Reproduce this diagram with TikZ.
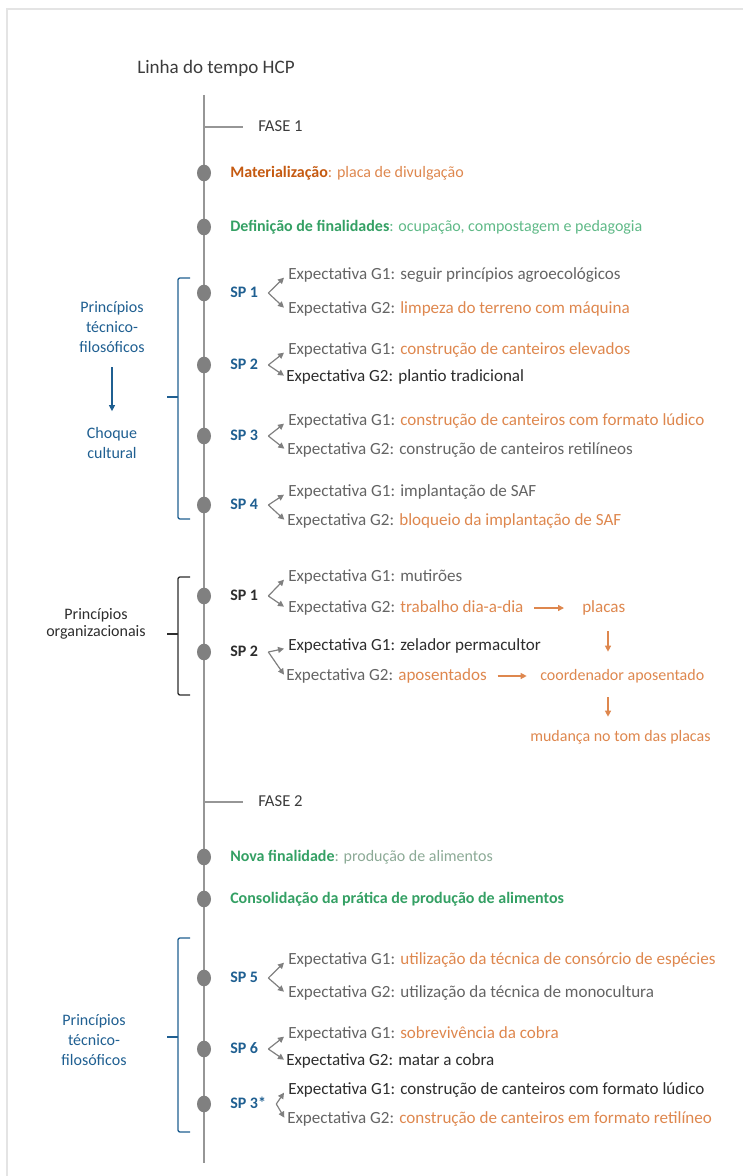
\documentclass[tikz,border=0pt]{standalone}
\usepackage{fontspec}
\setmainfont{Carlito}
\usetikzlibrary{arrows.meta,shapes.geometric}
\definecolor{frameg}{RGB}{228,228,228}
\definecolor{lineg}{RGB}{150,150,150}
\definecolor{dotg}{RGB}{128,128,128}
\definecolor{txtg}{RGB}{100,100,100}
\definecolor{txtd}{RGB}{45,45,45}
\definecolor{titleg}{RGB}{60,60,60}
\definecolor{orB}{RGB}{197,90,17}
\definecolor{orL}{RGB}{222,135,78}
\definecolor{grB}{RGB}{52,160,100}
\definecolor{grL}{RGB}{95,185,135}
\definecolor{grG}{RGB}{140,170,150}
\definecolor{bl}{RGB}{31,95,145}
\begin{document}
\begin{tikzpicture}[x=0.75pt,y=-0.75pt,
  txt/.style={anchor=west,inner sep=0pt,font=\fontsize{12}{14}\selectfont,text=txtg,text height=8.6pt,text depth=2.5pt},
  exp/.style={txt,font=\fontsize{12.8}{15}\selectfont,text height=9.1pt,text depth=2.7pt},
  fase/.style={txt,text=titleg,font=\fontsize{12.5}{14}\selectfont},
  titlestyle/.style={anchor=west,inner sep=0pt,font=\fontsize{14.3}{16}\selectfont,text=titleg},
  dot/.style={ellipse,fill=dotg,minimum width=10.5pt,minimum height=12.5pt,inner sep=0pt},
  splab/.style={txt,font=\fontsize{12}{14}\selectfont\bfseries,text=bl},
  splabk/.style={txt,font=\fontsize{12}{14}\selectfont\bfseries,text=txtd},
  sidelab/.style={align=center,inner sep=0pt,font=\fontsize{12}{15}\selectfont,text=bl},
  tline/.style={draw=lineg,line width=1pt},
  exparr/.style={draw=dotg,line width=0.9pt,-{Triangle[length=4.5pt,width=4.5pt]}},
  orarr/.style={draw=orL,line width=1pt,-{Triangle[length=4.5pt,width=4.5pt]}},
  blarr/.style={draw=bl,line width=1pt,-{Triangle[length=4.5pt,width=4.5pt]}},
  brk/.style={draw=bl,line width=1pt,rounded corners=1.5pt},
  brkk/.style={draw=txtd,line width=1pt,rounded corners=1.5pt}
]
\useasboundingbox (0,0) rectangle (743,1176);
\draw[frameg,line width=1.5pt] (7,1176) -- (7,9) -- (743,9);

\node[titlestyle] (title) at (137,68) {Linha do tempo HCP};

% timeline
\coordinate (ttop) at (204,95);
\coordinate (tbot) at (204,1163);
\draw[tline] (ttop) -- (tbot);

% FASE 1
\coordinate (f1) at (204,127);
\node[fase] (fase1) at (258,127) {FASE 1};
\draw[tline] (f1) -- ([xshift=-11pt]fase1.west);

\node[dot] (d1) at (204,173) {};
\node[txt] (t1) at (230,173) {\textcolor{orB}{\bfseries Materialização}\textcolor{orL}{: placa de divulgação}};
\node[dot] (d2) at (204,227) {};
\node[txt] (t2) at (230,227) {\textcolor{grB}{\bfseries Definição de finalidades}\textcolor{grL}{: ocupação, compostagem e pedagogia}};

% bracket 1
\draw[brk] (190,278) -- (178,278) -- (178,519) -- (190,519);
\draw[brk] (178,397) -- (167,397);
\node[sidelab] (ptf1) at (112,327) {Princípios\\técnico-\\filosóficos};
\node[sidelab] (cc1) at (112,443) {Choque\\cultural};
\draw[blarr,shorten <=11pt,shorten >=12pt] (ptf1.south) -- (cc1.north);

% SP1
\node[dot] (s1) at (204,293) {};
\node[splab] (sp1) at (230,293) {SP 1};
\node[exp] (g11) at (288,275) {Expectativa G1: seguir princípios agroecológicos};
\node[exp] (g12) at (288,309) {Expectativa G2: \textcolor{orL}{limpeza do terreno com máquina}};
\draw[exparr] ([xshift=7.5pt]sp1.east) -- ([xshift=-3pt,yshift=-2pt]g11.west);
\draw[exparr] ([xshift=7.5pt]sp1.east) -- ([xshift=-3pt,yshift=1pt]g12.west);

% SP2
\node[dot] (s2) at (204,365) {};
\node[splab] (sp2) at (230,365) {SP 2};
\node[exp] (g21) at (288,350) {Expectativa G1: \textcolor{orL}{construção de canteiros elevados}};
\node[exp,text=txtd] (g22) at (286,377) {Expectativa G2: plantio tradicional};
\draw[exparr] ([xshift=7.5pt]sp2.east) -- ([xshift=-3pt,yshift=-2pt]g21.west);
\draw[exparr] ([xshift=7.5pt]sp2.east) -- ([xshift=-1.5pt,yshift=1pt]g22.west);

% SP3
\node[dot] (s3) at (204,436) {};
\node[splab] (sp3) at (230,436) {SP 3};
\node[exp] (g31) at (288,421) {Expectativa G1: \textcolor{orL}{construção de canteiros com formato lúdico}};
\node[exp] (g32) at (287,450) {Expectativa G2: construção de canteiros retilíneos};
\draw[exparr] ([xshift=7.5pt]sp3.east) -- ([xshift=-3pt,yshift=-2pt]g31.west);
\draw[exparr] ([xshift=7.5pt]sp3.east) -- ([xshift=-2pt,yshift=1pt]g32.west);

% SP4
\node[dot] (s4) at (204,505) {};
\node[splab] (sp4) at (230,505) {SP 4};
\node[exp] (g41) at (288,492) {Expectativa G1: implantação de SAF};
\node[exp] (g42) at (287,521) {Expectativa G2: \textcolor{orL}{bloqueio da implantação de SAF}};
\draw[exparr] ([xshift=7.5pt]sp4.east) -- ([xshift=-3pt,yshift=-2pt]g41.west);
\draw[exparr] ([xshift=7.5pt]sp4.east) -- ([xshift=-2pt,yshift=1pt]g42.west);

% bracket 2 (organizational)
\draw[brkk] (190,577) -- (178,577) -- (178,695) -- (190,695);
\draw[brkk] (178,634) -- (167,634);
\node[sidelab,text=txtd,font=\fontsize{12}{13}\selectfont] (po) at (96,624) {Princípios\\organizacionais};

% org SP1
\node[dot] (o1) at (204,596) {};
\node[splabk] (osp1) at (230,596) {SP 1};
\node[exp] (o11) at (288,577) {Expectativa G1: mutirões};
\node[exp] (o12) at (288,608) {Expectativa G2: \textcolor{orL}{trabalho dia-a-dia}};
\draw[exparr] ([xshift=7.5pt]osp1.east) -- ([xshift=-3pt,yshift=-2pt]o11.west);
\draw[exparr] ([xshift=7.5pt]osp1.east) -- ([xshift=-3pt,yshift=1pt]o12.west);
\node[exp,text=orL] (placas) at (582,608) {placas};
\draw[orarr,shorten <=8pt,shorten >=13.5pt] (o12.east) -- (placas.west);

% org SP2
\node[dot] (o2) at (204,652) {};
\node[splabk] (osp2) at (230,652) {SP 2};
\node[exp,text=txtd] (o21) at (288,646) {Expectativa G1: zelador permacultor};
\node[exp] (o22) at (286,676) {Expectativa G2: \textcolor{orL}{aposentados}};
\draw[exparr] ([xshift=7.5pt]osp2.east) -- ([xshift=-3pt,yshift=-2pt]o21.west);
\draw[exparr] ([xshift=7.5pt]osp2.east) -- ([xshift=-1.5pt,yshift=1pt]o22.west);
\node[txt,text=orL] (coordap) at (540,676) {coordenador aposentado};
\draw[orarr,shorten <=8pt,shorten >=10pt] (o22.east) -- (coordap.west);
\node[txt,text=orL] (mud) at (530,737) {mudança no tom das placas};
\coordinate (ax) at (608,0);
\draw[orarr,shorten <=11.5pt,shorten >=12.5pt] (placas.south -| ax) -- (coordap.north -| ax);
\draw[orarr,shorten <=10.2pt,shorten >=9.5pt] (coordap.south -| ax) -- (mud.north -| ax);

% FASE 2
\coordinate (f2) at (204,802);
\node[fase] (fase2) at (258,802) {FASE 2};
\draw[tline] (f2) -- ([xshift=-11pt]fase2.west);

\node[dot] (d3) at (204,857) {};
\node[txt] (t3) at (230,857) {\textcolor{grB}{\bfseries Nova finalidade}\textcolor{grG}{: produção de alimentos}};
\node[dot] (d4) at (204,899) {};
\node[txt,text=grB] (t4) at (230,899) {\bfseries Consolidação da prática de produção de alimentos};

% bracket 3
\draw[brk] (190,938) -- (178,938) -- (178,1132) -- (190,1132);
\draw[brk] (178,1037) -- (167,1037);
\node[sidelab] (ptf2) at (94,1040) {Princípios\\técnico-\\filosóficos};

% SP5
\node[dot] (s5) at (204,978) {};
\node[splab] (sp5) at (230,978) {SP 5};
\node[exp] (g51) at (288,960) {Expectativa G1: \textcolor{orL}{utilização da técnica de consórcio de espécies}};
\node[exp] (g52) at (288,993) {Expectativa G2: utilização da técnica de monocultura};
\draw[exparr] ([xshift=7.5pt]sp5.east) -- ([xshift=-3pt,yshift=-2pt]g51.west);
\draw[exparr] ([xshift=7.5pt]sp5.east) -- ([xshift=-3pt,yshift=1pt]g52.west);

% SP6
\node[dot] (s6) at (204,1049) {};
\node[splab] (sp6) at (230,1049) {SP 6};
\node[exp] (g61) at (288,1034) {Expectativa G1: \textcolor{orL}{sobrevivência da cobra}};
\node[exp,text=txtd] (g62) at (286,1061) {Expectativa G2: matar a cobra};
\draw[exparr] ([xshift=7.5pt]sp6.east) -- ([xshift=-3pt,yshift=-2pt]g61.west);
\draw[exparr] ([xshift=7.5pt]sp6.east) -- ([xshift=-1.5pt,yshift=1pt]g62.west);

% SP3*
\node[dot] (s7) at (204,1104) {};
\node[splab] (sp7) at (230,1104) {SP 3*};
\node[exp,text=txtd] (g71) at (288,1090) {Expectativa G1: construção de canteiros com formato lúdico};
\node[exp] (g72) at (287,1119) {Expectativa G2: \textcolor{orL}{construção de canteiros em formato retilíneo}};
\draw[exparr] ([xshift=7.5pt]sp7.east) -- ([xshift=-3pt,yshift=-2pt]g71.west);
\draw[exparr] ([xshift=7.5pt]sp7.east) -- ([xshift=-2pt,yshift=1pt]g72.west);
\end{tikzpicture}
\end{document}
